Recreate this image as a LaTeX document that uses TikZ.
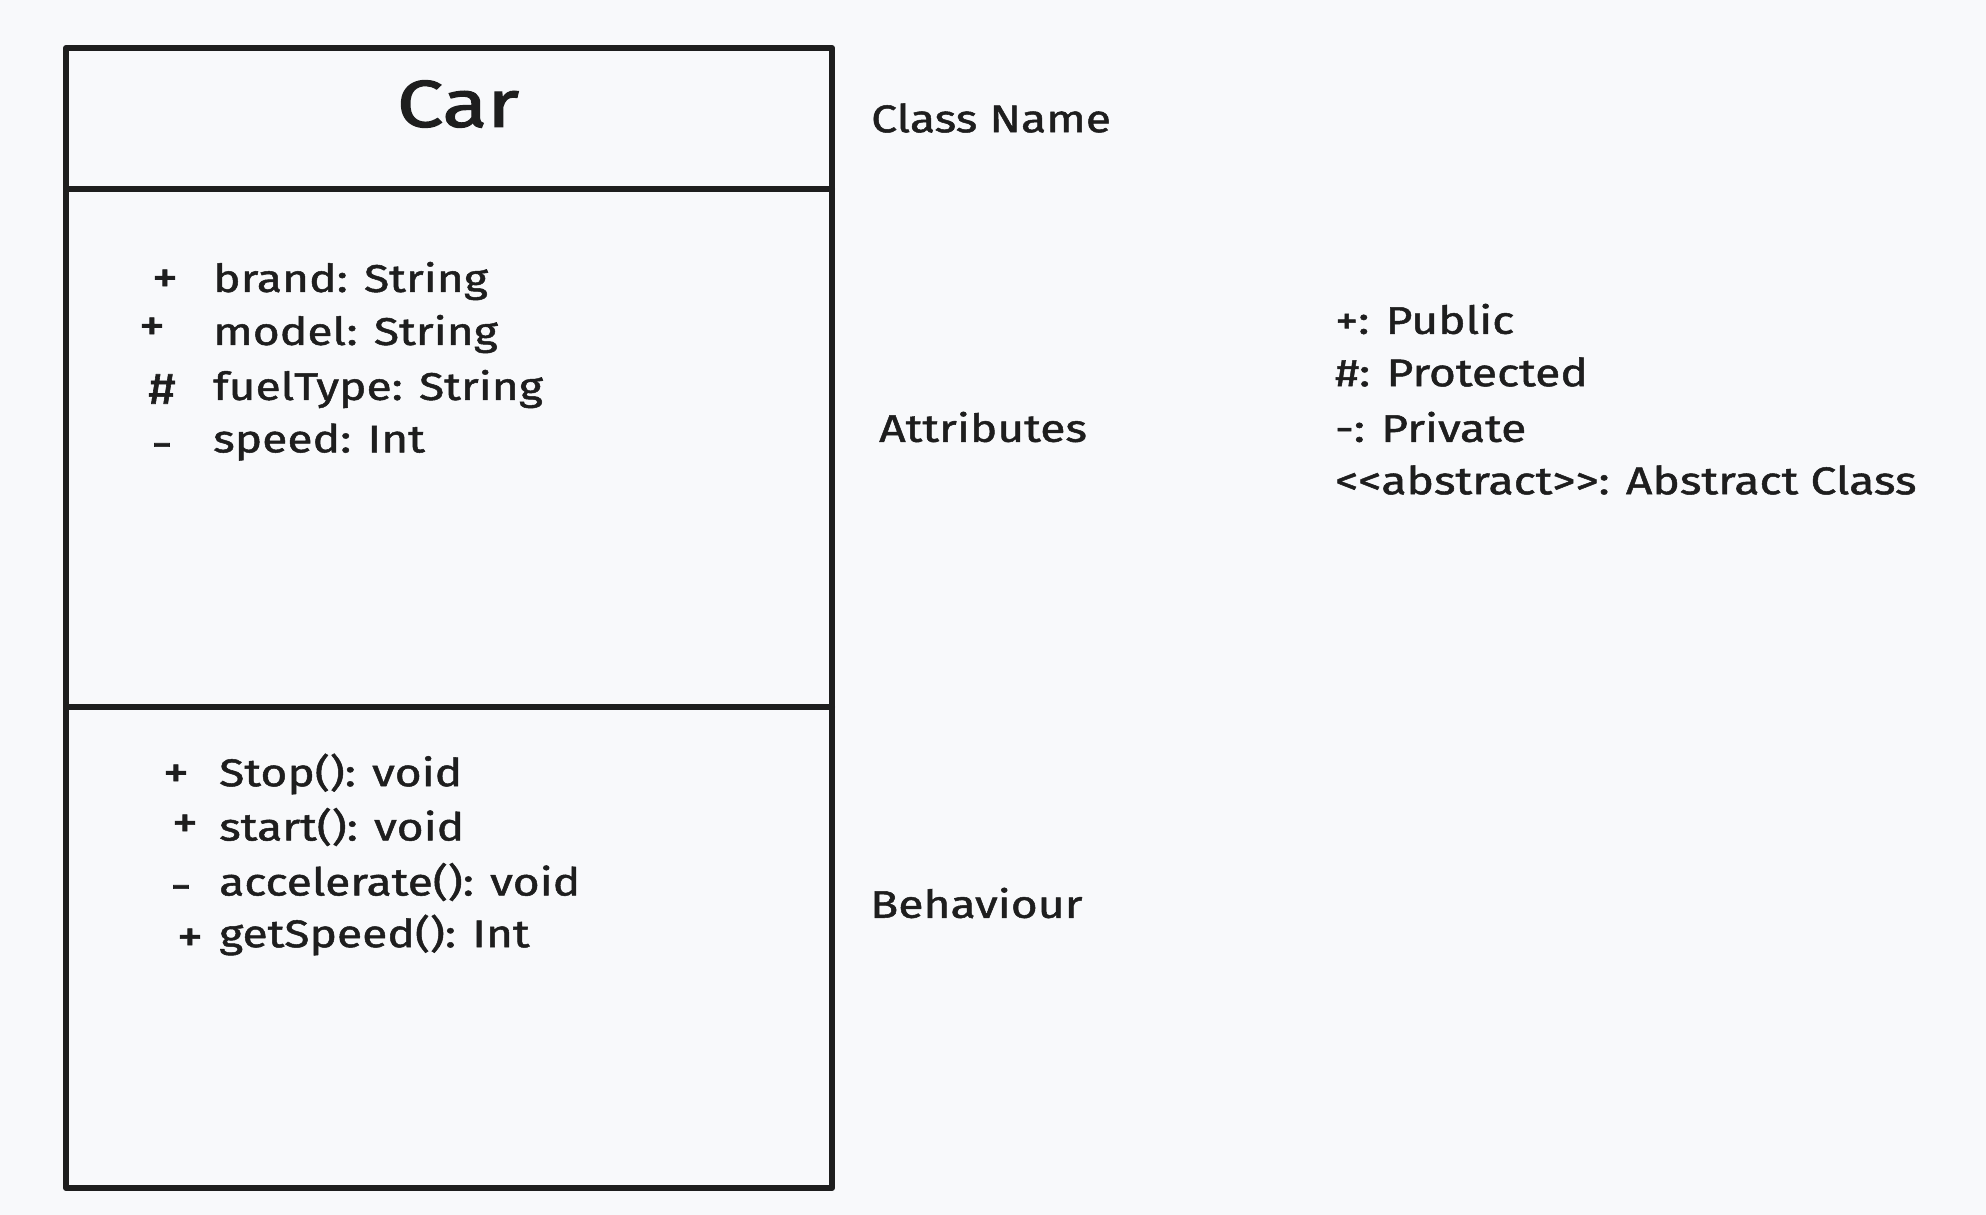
\documentclass[tikz,border=0pt]{standalone}
\usepackage{fontspec}
\setmainfont{Fira Sans}
\newfontfamily\hand{Fira Sans}[FakeStretch=1.2,FakeBold=1.3]
\newfontfamily\handtitle{Fira Sans}[FakeStretch=1.25,FakeBold=2]
\definecolor{bg}{RGB}{248,249,251}
\definecolor{ink}{RGB}{30,30,30}
\begin{document}
\begin{tikzpicture}[x=1pt,y=-1pt,
  box/.style={draw=ink,line width=6pt,line join=round,line cap=round},
  txt/.style={text=ink,anchor=west,inner sep=0pt,font=\hand\fontsize{38.5}{44}\selectfont},
  sym/.style={text=ink,anchor=center,inner sep=0pt,font=\hand\fontsize{44}{48}\selectfont},
  title/.style={text=ink,anchor=center,inner sep=0pt,font=\handtitle\fontsize{66}{72}\selectfont}]
\useasboundingbox[fill=bg] (0,0) rectangle (1986,1215);
\coordinate (tl) at (66,48);
\coordinate (br) at (832,1188);
\coordinate (d1l) at (66,189);
\coordinate (d1r) at (832,189);
\coordinate (d2l) at (66,707);
\coordinate (d2r) at (832,707);
\draw[box] (tl) rectangle (br);
\draw[box] (d1l) -- (d1r);
\draw[box] (d2l) -- (d2r);
\node[title] (car) at (458,104) {Car};
\node[txt] (cn) at (871,118) {Class Name};
\node[txt] (at) at (879,427) {Attributes};
\node[txt] (bh) at (870,903) {Behaviour};
% attributes
\node[sym] (s1) at (165,281) {+};
\node[sym] (s2) at (152,329) {+};
\node[sym] (s3) at (162,389) {\#};
\node[sym] (s4) at (162,451) {-};
\node[txt] (a1) at (213,281) {brand: String};
\node[txt] (a2) at (213,334) {model: String};
\node[txt] (a3) at (213,389) {fuelType: String};
\node[txt] (a4) at (213,442) {speed: Int};
% methods
\node[sym] (m1s) at (176,776) {+};
\node[sym] (m2s) at (185,826) {+};
\node[sym] (m3s) at (181,893) {-};
\node[sym] (m4s) at (190,940) {+};
\node[txt] (m1) at (219,774) {Stop(): void};
\node[txt] (m2) at (219,827) {start(): void};
\node[txt] (m3) at (219,882) {accelerate(): void};
\node[txt] (m4) at (219,935) {getSpeed(): Int};
% legend
\node[txt] (l1) at (1335,319) {+: Public};
\node[txt] (l2) at (1335,372) {\#: Protected};
\node[txt] (l3) at (1335,427) {-: Private};
\node[txt] (l4) at (1335,480) {<{}<abstract>{}>: Abstract Class};
\end{tikzpicture}
\end{document}
